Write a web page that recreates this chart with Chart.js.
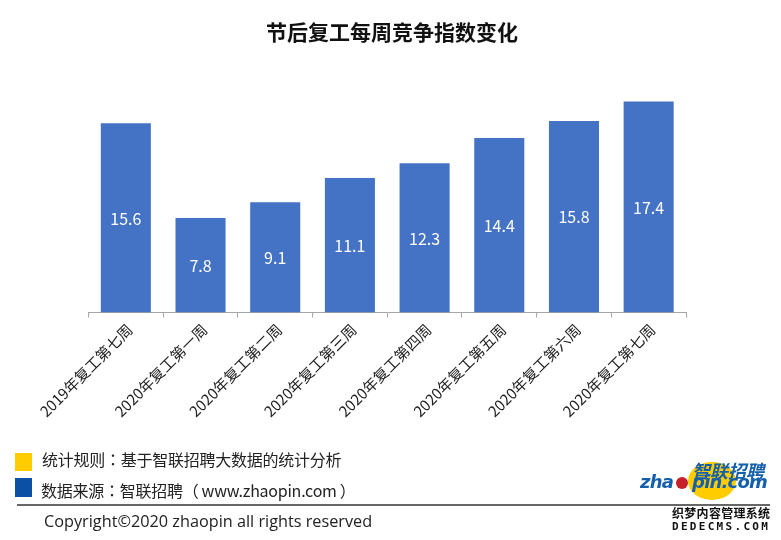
<!DOCTYPE html>
<html>
<head>
<meta charset="utf-8">
<script src="https://cdn.jsdelivr.net/npm/chart.js@4/dist/chart.umd.min.js"></script>
<style>
  html, body { margin: 0; padding: 0; background: #fff; }
  #wrap { position: relative; width: 781px; height: 540px; overflow: hidden; font-family: "Noto Sans CJK SC", "Noto Sans", sans-serif; color: #222; }
  #chart { position: absolute; left: 0; top: 0; }
  .txt { position: absolute; white-space: nowrap; }
  .sq { position: absolute; left: 15px; width: 17px; }
  .colon { font-family: "Noto Sans CJK TC", sans-serif; }
</style>
</head>
<body>
<div id="wrap">
  <canvas id="chart" width="781" height="540"></canvas>
  <div class="txt" style="left:0;width:784px;text-align:center;top:17px;font-size:21px;line-height:28px;font-weight:700;color:#111">节后复工每周竞争指数变化</div>
  <div class="sq" style="top:453px;height:18px;background:#ffcc00"></div>
  <div class="sq" style="top:478px;height:19px;background:#0b50a5"></div>
  <div class="txt" style="left:42px;top:448px;font-size:16px;line-height:22px;letter-spacing:-0.25px">统计规则<span class="colon">：</span>基于智联招聘大数据的统计分析</div>
  <div class="txt" style="left:41px;top:479px;font-size:16px;line-height:22px;letter-spacing:-0.25px">数据来源<span class="colon">：</span>智联招聘<span class="colon">（</span><span style="margin-left:3px;margin-right:3px">www.zhaopin.com</span><span class="colon">）</span></div>
  <div style="position:absolute;left:17px;top:504px;width:753px;height:2px;background:#666"></div>
  <div class="txt" style="left:44px;top:510px;font-size:16.25px;line-height:22px;font-family:'Open Sans',sans-serif">Copyright©2020 zhaopin all rights reserved</div>
  <div style="position:absolute;left:688px;top:462px;width:48px;height:38px;border-radius:50%;background:#ffcc00"></div>
  <div style="position:absolute;left:676px;top:477px;width:12px;height:12px;border-radius:50%;background:#c8202a"></div>
  <div class="txt" style="left:692px;top:458px;font-size:18px;line-height:24px;font-style:italic;font-weight:700;color:#1560ad">智联招聘</div>
  <div class="txt" style="left:640px;top:470px;font-size:18px;line-height:24px;font-style:italic;font-weight:700;font-family:'DejaVu Sans',sans-serif;color:#1560ad;letter-spacing:-0.8px">zha<span style="margin-left:19px">pin.com</span></div>
  <div class="txt" style="left:672px;top:505px;font-size:12px;line-height:15px;font-weight:700;color:#111;letter-spacing:.3px">织梦内容管理系统</div>
  <div class="txt" style="left:672px;top:520px;font-size:11px;line-height:14px;font-weight:700;font-family:'DejaVu Sans Mono',monospace;color:#111;letter-spacing:2.3px">DEDECMS.COM</div>
</div>
<script>
const categories = ["2019年复工第七周", "2020年复工第一周", "2020年复工第二周", "2020年复工第三周", "2020年复工第四周", "2020年复工第五周", "2020年复工第六周", "2020年复工第七周"];
const indexValues = [15.6, 7.8, 9.1, 11.1, 12.3, 14.4, 15.8, 17.4];

// value labels in the middle of each bar
const barLabels = {
  id: "barLabels",
  afterDatasetsDraw(chart) {
    const ctx = chart.ctx;
    ctx.save();
    ctx.fillStyle = "#fff";
    ctx.font = '16px "Noto Sans CJK SC", "Noto Sans", sans-serif';
    ctx.textAlign = "center";
    ctx.textBaseline = "middle";
    chart.getDatasetMeta(0).data.forEach((bar, i) => {
      const p = bar.getProps(["x", "y", "base"], true);
      ctx.fillText(indexValues[i].toFixed(1), p.x, (p.y + p.base) / 2 + 0.5);
    });
    ctx.restore();
  }
};

new Chart(document.getElementById("chart"), {
  type: "bar",
  data: {
    labels: categories,
    datasets: [{
      data: indexValues,
      backgroundColor: "#4472c4",
      categoryPercentage: 1,
      barPercentage: 0.67
    }]
  },
  plugins: [barLabels],
  options: {
    responsive: false,
    animation: false,
    layout: { padding: { left: 88.5, right: 95, top: 70 } },
    plugins: {
      legend: { display: false },
      tooltip: { enabled: false }
    },
    scales: {
      x: {
        grid: { drawOnChartArea: false, color: "#a6a6a6", tickLength: 5, offset: true },
        border: { color: "#a6a6a6" },
        ticks: {
          color: "#222",
          font: { family: '"Noto Sans CJK SC", sans-serif', size: 15 },
          minRotation: 45,
          maxRotation: 45,
          padding: 3,
          labelOffset: 4
        },
        afterFit(scale) { scale.height = 227.5; }
      },
      y: { display: false, min: 0, max: 20 }
    }
  }
});
</script>
</body>
</html>
